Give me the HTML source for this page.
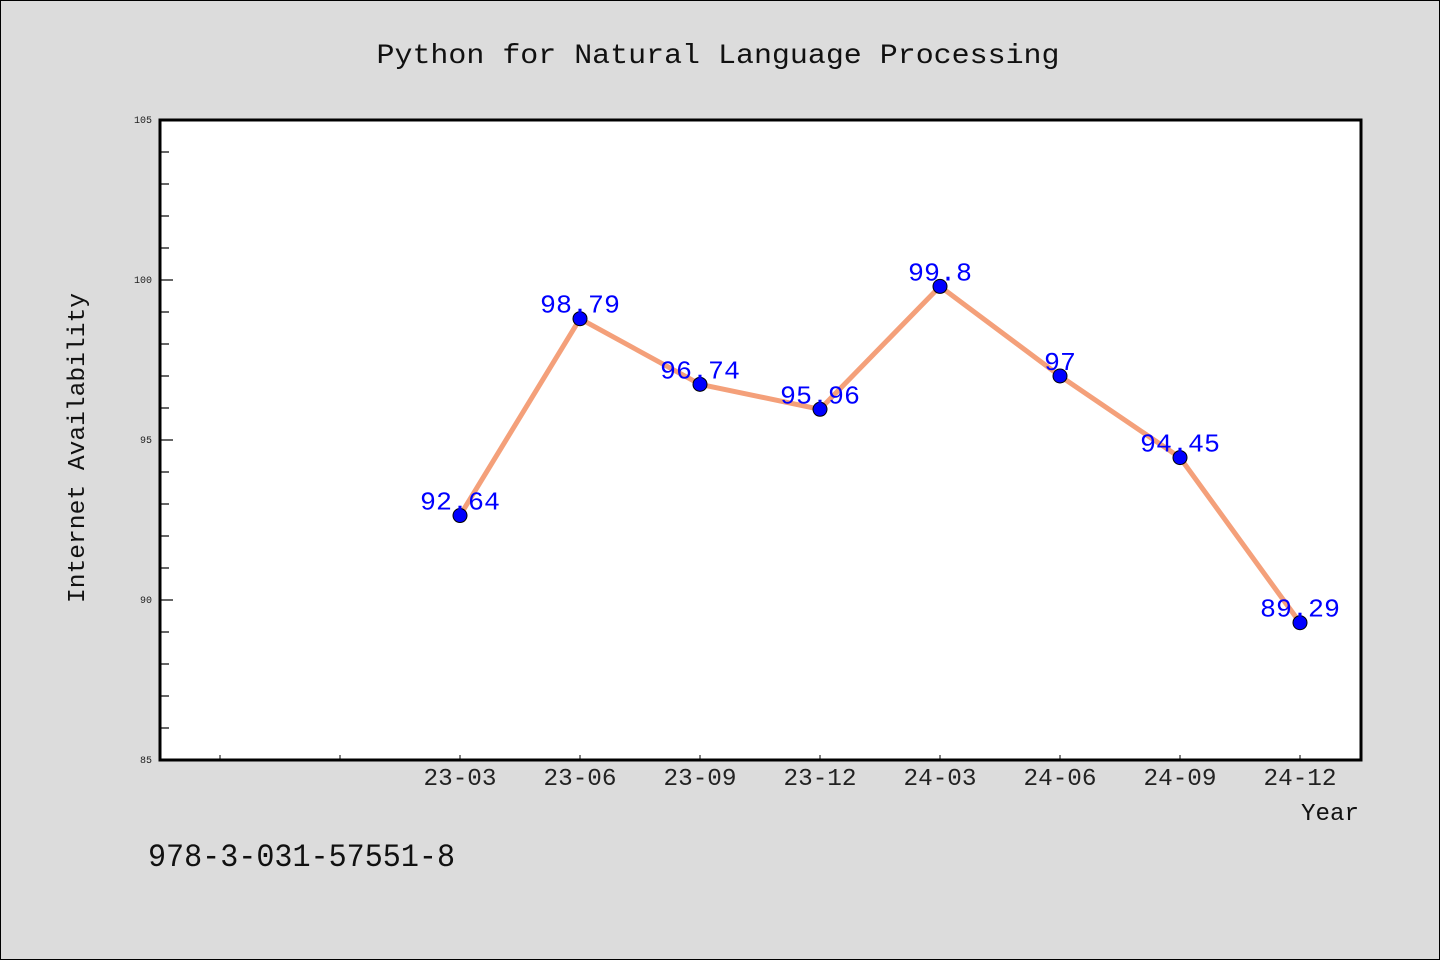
<!DOCTYPE html>
<html><head><meta charset="utf-8"><style>
html,body{margin:0;padding:0;background:#dcdcdc;}
svg{display:block;}
text{font-family:"Liberation Mono",monospace;}
</style></head><body>
<svg id="chart" width="1440" height="960" xmlns="http://www.w3.org/2000/svg">
<rect x="0.5" y="0.5" width="1439" height="959" fill="#dcdcdc" stroke="#000"/>
<text x="718" y="63" font-size="28" text-anchor="middle" textLength="683" lengthAdjust="spacingAndGlyphs" fill="#111">Python for Natural Language Processing</text>
<rect x="160" y="120" width="1201" height="640" fill="#fff"/>
<g id="axes"></g>
<g id="series"></g>
<rect x="160" y="120" width="1201" height="640" fill="none" stroke="#000" stroke-width="3"/>
<text x="84" y="448" font-size="24" text-anchor="middle" textLength="310" lengthAdjust="spacingAndGlyphs" fill="#111" transform="rotate(-90 84 448)">Internet Availability</text>
<text x="1359" y="820" font-size="24" text-anchor="end" textLength="58" lengthAdjust="spacingAndGlyphs" fill="#111">Year</text>
<text x="148" y="866" font-size="32" textLength="307" lengthAdjust="spacingAndGlyphs" fill="#111">978-3-031-57551-8</text>
</svg>
<script>
const categories = ["", "", "23-03", "23-06", "23-09", "23-12", "24-03", "24-06", "24-09", "24-12"];
const values = [null, null, 92.64, 98.79, 96.74, 95.96, 99.8, 97, 94.45, 89.29];
const valueLabels = ["", "", "92.64", "98.79", "96.74", "95.96", "99.8", "97", "94.45", "89.29"];
const yTicks = [85, 90, 95, 100, 105];
const yMin = 85, yMax = 105;
const NS = "http://www.w3.org/2000/svg";
const px = i => 220 + i * 120;
const py = v => 760 - (v - yMin) / (yMax - yMin) * 640;
const axes = document.getElementById('axes');
const series = document.getElementById('series');
function mk(tag, attrs, parent){const e=document.createElementNS(NS,tag);for(const k in attrs)e.setAttribute(k,attrs[k]);parent.appendChild(e);return e;}
for (let v = yMin; v <= yMax; v++) {
  const major = yTicks.includes(v);
  const t = mk('line', {x1:160, x2: major?173:169, y1:py(v), y2:py(v), stroke:'#000', 'stroke-width':1.2}, axes);
  
  
}
yTicks.forEach(v => {
  const t = mk('text', {x:152, y:py(v)+3, 'font-size':10, 'text-anchor':'end', fill:'#222'}, axes);
  t.textContent = v;
  
  
});
categories.forEach((c, i) => {
  const t = mk('line', {x1:px(i), x2:px(i), y1:760, y2:755, stroke:'#000', 'stroke-width':1}, axes);
  
  
  if (c) {
    const l = mk('text', {x:px(i), y:785, 'font-size':24, 'text-anchor':'middle', textLength:73, lengthAdjust:'spacingAndGlyphs', fill:'#222'}, axes);
    l.textContent = c;
    
    
  }
});
const pts = [];
values.forEach((v, i) => { if (v !== null) pts.push([px(i), py(v), i]); });
const line = mk('polyline', {points: pts.map(p => p[0]+','+p[1]).join(' '), fill:'none', stroke:'#f4a07a', 'stroke-width':5, 'stroke-linejoin':'round'}, series);


pts.forEach(p => {
  const c = mk('circle', {cx:p[0], cy:p[1], r:7, fill:'#0000ff', stroke:'#000', 'stroke-width':1}, series);
  
  
});
pts.forEach(p => {
  const s = valueLabels[p[2]];
  const t = mk('text', {x:p[0], y:p[1]-6, 'font-size':26, 'text-anchor':'middle', textLength: s.length*16, lengthAdjust:'spacingAndGlyphs', fill:'#0000ff'}, series);
  t.textContent = s;
  
  
});
</script>
</body></html>
